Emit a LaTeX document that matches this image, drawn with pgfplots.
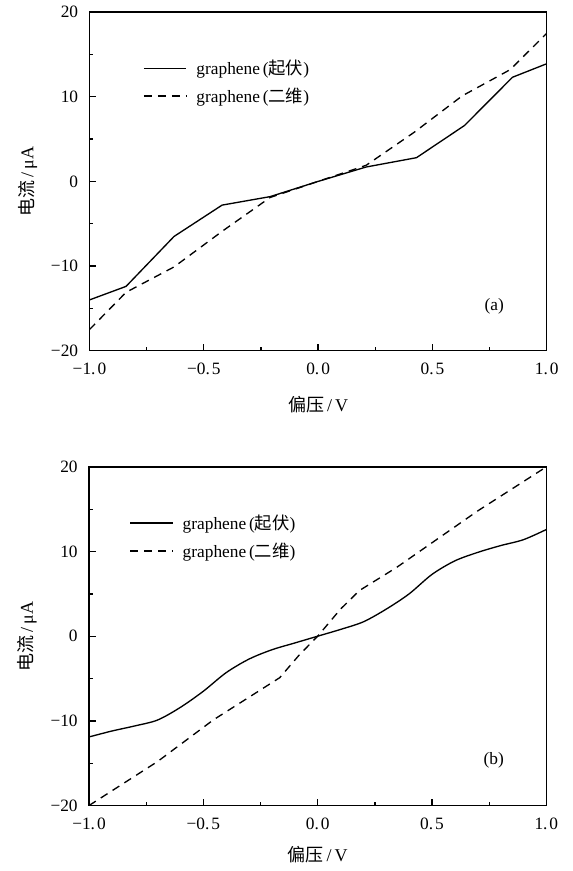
\documentclass[border=0pt]{standalone}
\usepackage{fontspec}
\setmainfont{Liberation Serif}
\newfontfamily\cjk{Noto Sans CJK SC}
\usepackage{pgfplots}
\pgfplotsset{compat=1.18}
\pgfplotsset{
 myax/.style={
  scale only axis, width=343pt, height=254pt, anchor=south west,
  xmin=-1, xmax=1, ymin=-20, ymax=20,
  xtick={-1,-0.5,0,0.5,1},
  xticklabels={−1.\hspace{1.5pt}0,−0.\hspace{1.5pt}5,0.\hspace{1.5pt}0,0.\hspace{1.5pt}5,1.\hspace{1.5pt}0},
  ytick={-20,-10,0,10,20},
  yticklabels={−20,−10,0,10,20},
  minor tick num=1,
  tick pos=left, tick align=inside,
  major tick length=5pt, minor tick length=3pt,
  axis line style={line width=1pt},
  every tick/.style={black, line width=1pt},
  tick label style={font=\fontsize{13}{15}\selectfont},
  xticklabel style={yshift=-6pt},
  yticklabel style={xshift=-5pt},
  xlabel={{\cjk 偏压}\,/\,V}, ylabel={{\cjk 电流}\,/\,μA},
  label style={font=\fontsize{13.5}{15}\selectfont},
  ylabel style={at={(axis description cs:-0.135,0.5)}, anchor=center},
  legend style={draw=none, fill=none, anchor=north west,
    font=\fontsize{13}{15}\selectfont, row sep=4.5pt},
  legend cell align=left,
  legend image code/.code={\draw[#1] (0pt,0pt) -- (32pt,0pt); \path (37pt,0pt);},
 }
}
\begin{document}
\begin{tikzpicture}[x=1pt,y=1pt]
\path[use as bounding box] (0,0) rectangle (429,653.25);
% top panel (a)
\begin{axis}[myax, at={(67.1pt,390.2pt)},
  xlabel style={at={(axis description cs:0.5,-0.16)}, anchor=center},
  legend style={at={(axis description cs:0.108,0.875)}}]
\addplot[black, line width=1pt] coordinates {
 (-1,-14) (-0.84,-12.4) (-0.63,-6.5) (-0.42,-2.8) (-0.21,-1.8) (0,0)
 (0.21,1.7) (0.43,2.8) (0.64,6.6) (0.85,12.3) (1,13.9)};
\addlegendentry{graphene\,({\cjk 起伏})}
\addplot[black, line width=1pt, dash pattern=on 6pt off 4.5pt] coordinates {
 (-1,-17.5) (-0.84,-13.1) (-0.63,-10.1) (-0.42,-5.9) (-0.21,-1.9) (0,0)
 (0.21,1.9) (0.42,5.8) (0.63,10.1) (0.84,13.2) (1,17.5)};
\addlegendentry{graphene\,({\cjk 二维})}
\node[font=\fontsize{13}{15}\selectfont] at (axis cs:0.77,-14.7) {(a)};
\end{axis}
% bottom panel (b)
\begin{axis}[myax, at={(66.75pt,49.1pt)},
  xlabel style={at={(axis description cs:0.5,-0.145)}, anchor=center},
  legend style={at={(axis description cs:0.079,0.875)}}]
\addplot[black, line width=1pt, smooth] coordinates {
 (-1,-11.9) (-0.9,-11.2) (-0.8,-10.6) (-0.7,-9.9) (-0.6,-8.4) (-0.5,-6.5)
 (-0.4,-4.3) (-0.3,-2.7) (-0.2,-1.6) (-0.1,-0.8) (0,0) (0.1,0.8) (0.2,1.7)
 (0.3,3.2) (0.4,5.0) (0.5,7.3) (0.6,8.9) (0.7,9.9) (0.8,10.7) (0.9,11.4) (1,12.6)};
\addlegendentry{graphene\,({\cjk 起伏})}
\addplot[black, line width=1pt, dash pattern=on 6pt off 4.5pt] coordinates {
 (-1,-20) (-0.7,-14.8) (-0.457,-9.9) (-0.166,-4.9) (-0.08,-2.2) (0,0)
 (0.1,3.2) (0.183,5.4) (0.344,8.1) (0.7,14.8) (1,20)};
\addlegendentry{graphene\,({\cjk 二维})}
\node[font=\fontsize{13}{15}\selectfont] at (axis cs:0.77,-14.7) {(b)};
\end{axis}
\end{tikzpicture}
\end{document}
